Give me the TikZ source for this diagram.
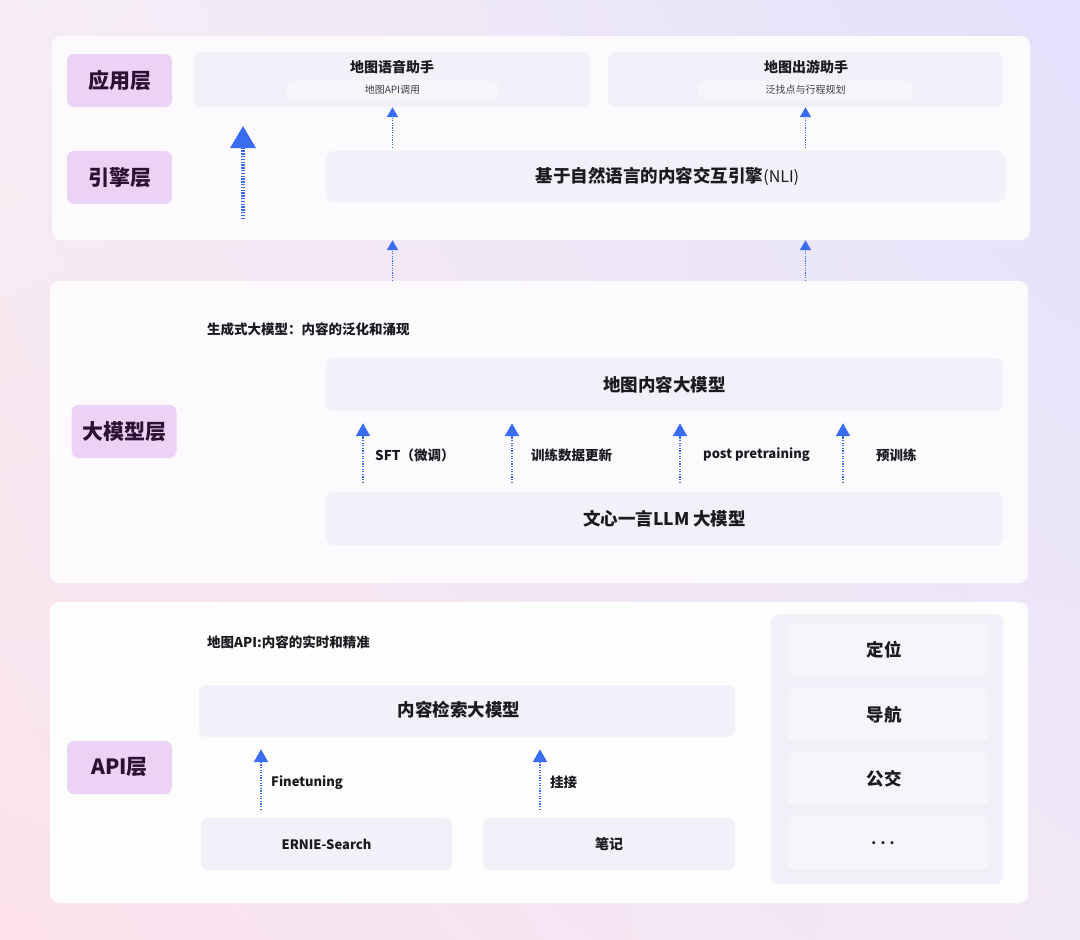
\documentclass[tikz,border=0pt]{standalone}
\usepackage{fontspec}
\setmainfont{Noto Sans CJK SC}
\usetikzlibrary{arrows.meta,shadings}
\definecolor{bgA}{HTML}{F6EDF4}
\definecolor{bgTR}{HTML}{E3E1FB}
\definecolor{bgBL}{HTML}{FBE2EC}
\definecolor{bgBR}{HTML}{F1E8F7}
\definecolor{panelc}{HTML}{FCFAFD}
\definecolor{boxc}{HTML}{F2F1FA}
\definecolor{subc}{HTML}{F7F6FC}
\definecolor{labc}{HTML}{ECD3F5}
\definecolor{labt}{HTML}{2B1233}
\definecolor{txt}{HTML}{1A1A1F}
\definecolor{ablue}{HTML}{3A6CF0}
\definecolor{grpc}{HTML}{EFF0F8}
\definecolor{innc}{HTML}{F5F6FB}
\tikzset{
  panel/.style={fill=panelc, rounded corners=9pt, inner sep=0pt},
  layer/.style={fill=labc, rounded corners=7pt, text=labt, font=\fontsize{21}{24}\selectfont\bfseries, minimum width=105pt, minimum height=53pt, inner sep=0pt},
  box/.style={fill=boxc, rounded corners=7pt, text=txt, inner sep=0pt},
  subbox/.style={fill=subc, rounded corners=6pt, text=txt!85, font=\fontsize{10}{12}\selectfont, minimum width=212pt, minimum height=18pt, inner sep=0pt},
  bigtxt/.style={font=\fontsize{17.5}{20}\selectfont\bfseries},
  midtxt/.style={font=\fontsize{14}{16}\selectfont\bfseries, text=txt},
  lbl/.style={font=\fontsize{13.5}{16}\selectfont\bfseries, text=txt, anchor=west, inner sep=0pt},
  arrS/.style={draw=ablue, line width=1.8pt, dash pattern=on 1.2pt off 1.2pt, -{Triangle[width=11pt,length=10pt]}},
  arrM/.style={draw=ablue, line width=2.2pt, dash pattern=on 1.3pt off 1.3pt, -{Triangle[width=14pt,length=13pt]}},
  arrB/.style={draw=ablue, line width=3.5pt, dash pattern=on 1.4pt off 1.4pt, -{Triangle[width=25pt,length=22pt]}},
  inner/.style={fill=innc, rounded corners=6pt, text=txt, font=\fontsize{17.5}{20}\selectfont\bfseries, minimum width=200pt, minimum height=53pt, inner sep=0pt},
  innshadow/.style={fill=black!6, rounded corners=6pt, minimum width=198pt, minimum height=53pt, inner sep=0pt}
}
\begin{document}
\begin{tikzpicture}[x=1pt,y=-1pt]
% background
\shade[upper left=bgA, upper right=bgTR, lower left=bgBL, lower right=bgBR] (0,0) rectangle (1080,940);
\useasboundingbox (0,0) rectangle (1080,940);

% panels
\node[panel, minimum width=978pt, minimum height=204pt] (p1) at (541,138) {};
\node[panel, minimum width=978pt, minimum height=302pt] (p2) at (539,432) {};
\node[panel, fill=white!60!panelc, minimum width=978pt, minimum height=301pt] (p3) at (539,752.5) {};

% layer labels
\node[layer] (lapp) at (119.5,80.5) {应用层};
\node[layer] (leng) at (119.5,177.5) {引擎层};
\node[layer] (lbig) at (124,431.5) {大模型层};
\node[layer] (lapi) at (119.5,767.5) {API层};

% top panel
\node[box, minimum width=396pt, minimum height=55pt] (voice) at (392,79.5) {};
\node[midtxt] (voicet) at (392,67) {地图语音助手};
\node[subbox] (voices) at (392.5,90) {地图API调用};
\node[box, minimum width=395pt, minimum height=55pt] (travel) at (805.5,79.5) {};
\node[midtxt] (travelt) at (806,67) {地图出游助手};
\node[subbox, minimum width=214pt] (travels) at (805.5,90) {泛找点与行程规划};
\node[box, minimum width=679pt, minimum height=51pt, bigtxt] (engine) at (665.5,176.5) {\hspace*{4pt}基于自然语言的内容交互引擎{\mdseries\fontsize{16}{18}\selectfont(NLI)}};

\coordinate (bigS) at (243,219);
\coordinate (bigT) at (243,126);
\draw[arrB] (bigS) -- (bigT);
\draw[arrS, shorten <=3pt] (engine.north -| voices) -- (voice.south -| voices);
\draw[arrS, shorten <=3pt] (engine.north -| travels) -- (travel.south -| travels);
\draw[arrS] (p2.north -| voices) -- (p1.south -| voices);
\draw[arrS] (p2.north -| travels) -- (p1.south -| travels);

% middle panel
\node[lbl] (h2) at (207,329) {生成式大模型：内容的泛化和涌现};
\node[box, minimum width=677pt, minimum height=53pt, bigtxt] (cm) at (664.5,384.5) {地图内容大模型};
\node[box, minimum width=677pt, minimum height=53pt, bigtxt] (llm) at (664.5,518.5) {文心一言LLM 大模型};
\coordinate (a1) at (363,455);
\coordinate (a2) at (512,455);
\coordinate (a3) at (680,455);
\coordinate (a4) at (843,455);
\foreach \c in {a1,a2,a3,a4}{
  \draw[arrM, shorten <=9pt, shorten >=12pt] (llm.north -| \c) -- (cm.south -| \c);
}
\node[lbl] (t1) at (375,455) {SFT（微调）};
\node[lbl] (t2) at (531,455) {训练数据更新};
\node[lbl, font=\fontsize{13}{15}\selectfont\bfseries] (t3) at (703,455) {post pretraining};
\node[lbl] (t4) at (876,455) {预训练};

% bottom panel
\node[lbl] (h3) at (207,642) {地图API:内容的实时和精准};
\node[box, minimum width=536pt, minimum height=52pt] (search) at (467,711) {};
\node[bigtxt, text=txt] (searcht) at (459,710) {内容检索大模型};
\node[box, minimum width=251pt, minimum height=52pt, midtxt] (ernie) at (326.5,844) {\fontsize{13}{15}\selectfont ERNIE-Search};
\node[box, minimum width=252pt, minimum height=52pt, midtxt] (notes) at (609,844) {笔记};
\coordinate (b1) at (261,780);
\coordinate (b2) at (540,780);
\draw[arrM, shorten <=8pt, shorten >=12pt] (ernie.north -| b1) -- (search.south -| b1);
\draw[arrM, shorten <=8pt, shorten >=12pt] (notes.north -| b2) -- (search.south -| b2);
\node[lbl, font=\fontsize{13}{15}\selectfont\bfseries] (f1) at (271,783) {Finetuning};
\node[lbl] (f2) at (550,782) {挂接};

\node[fill=grpc, rounded corners=8pt, minimum width=232pt, minimum height=270pt, inner sep=0pt] (grp) at (887,749) {};
\foreach \yy/\nm in {652.5/s1,717.5/s2,781.5/s3,846.5/s4}{
  \node[innshadow] (\nm) at (888,\yy) {};
}
\node[inner] (d1) at (888,649.5) {定位\hspace*{8pt}};
\node[inner] (d2) at (888,714.5) {导航\hspace*{8pt}};
\node[inner] (d3) at (888,778.5) {公交\hspace*{8pt}};
\node[inner, font=\fontsize{14}{16}\selectfont\bfseries] (d4) at (888,843.5) {. . .\hspace*{10pt}};
\end{tikzpicture}
\end{document}
